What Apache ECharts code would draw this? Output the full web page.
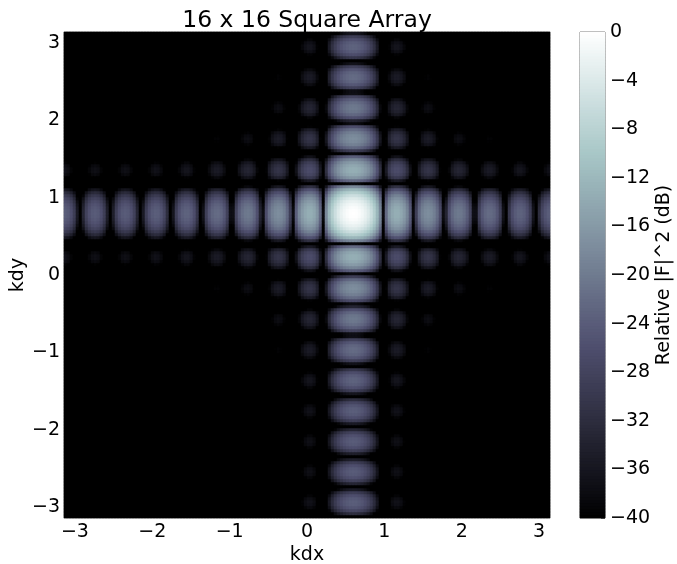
<!DOCTYPE html>
<html><head><meta charset="utf-8">
<style>html,body{margin:0;padding:0;background:#fff}#c{width:677px;height:564px}</style>
<script src="https://cdn.jsdelivr.net/npm/echarts@6/dist/echarts.min.js"></script>
</head><body><div id="c"></div>
<script>
// Cut through the peak along kdx, in dB, left to right (162 samples, -pi..pi)
const kdxProfileDb = [
-23.7,-24.4,-26.0,-29.0,-35.3,-52,-33.3,-28.2,-25.7,-24.4,-24.0,-24.5,-26.0,-28.8,-34.4,-60,
-34.4,-28.8,-26.0,-24.5,-24.0,-24.4,-25.7,-28.2,-33.3,-52,
-35.3,-29.0,-26.0,-24.4,-23.7,-23.9,-25.1,-27.4,-31.9,-45.6,
-36.1,-29.0,-25.7,-23.9,-23.1,-23.1,-24.1,-26.2,-30.3,-41.2,
-36.7,-28.6,-24.9,-22.9,-22.0,-21.9,-22.7,-24.6,-28.3,-37.4,
-37.2,-27.8,-23.7,-21.5,-20.4,-20.1,-20.7,-22.4,-25.7,-33.4,
-37.6,-26.3,-21.8,-19.3,-18.0,-17.5,-17.9,-19.2,-22.2,-28.8,
-37.9,-23.7,-18.6,-15.7,-14.1,-13.3,-13.3,-14.2,-16.5,-22.0,
-38.0,-18.2,-12.1,-8.4,-5.8,-3.8,-2.4,-1.3,-0.6,-0.1,
0,
-0.1,-0.6,-1.3,-2.4,-3.8,-5.8,-8.4,-12.1,-18.2,-38.0,
-22.0,-16.5,-14.2,-13.3,-13.3,-14.1,-15.7,-18.6,-23.7,-37.9,
-28.8,-22.2,-19.2,-17.9,-17.5,-18.0,-19.3,-21.8,-26.3,-37.6,
-33.4,-25.7,-22.4,-20.7,-20.1,-20.4,-21.5,-23.7,-27.8,-37.2,
-37.4,-28.3,-24.6,-22.7,-21.9,-22.0,-22.9,-24.9,-28.6,-36.7,
-41.2,-30.3,-26.2,-24.1,-23.1,-23.1,-23.9,-25.7,-29.0,-36.1,
-45.6,-31.9,-27.4,-25.1,-23.9
];
// Cut through the peak along kdy, in dB, bottom to top (162 samples, -pi..pi)
const kdyProfileDb = [
-45.6,-31.9,-27.4,-25.1,-23.9,-23.7,-24.4,-26.0,-29.0,-35.3,
-52,-33.3,-28.2,-25.7,-24.4,-24.0,-24.5,-26.0,-28.8,-34.4,-60,
-34.4,-28.8,-26.0,-24.5,-24.0,-24.4,-25.7,-28.2,-33.3,-52,
-35.3,-29.0,-26.0,-24.4,-23.7,-23.9,-25.1,-27.4,-31.9,-45.6,
-36.1,-29.0,-25.7,-23.9,-23.1,-23.1,-24.1,-26.2,-30.3,-41.2,
-36.7,-28.6,-24.9,-22.9,-22.0,-21.9,-22.7,-24.6,-28.3,-37.4,
-37.2,-27.8,-23.7,-21.5,-20.4,-20.1,-20.7,-22.4,-25.7,-33.4,
-37.6,-26.3,-21.8,-19.3,-18.0,-17.5,-17.9,-19.2,-22.2,-28.8,
-37.9,-23.7,-18.6,-15.7,-14.1,-13.3,-13.3,-14.2,-16.5,-22.0,
-38.0,-18.2,-12.1,-8.4,-5.8,-3.8,-2.4,-1.3,-0.6,-0.1,
0,
-0.1,-0.6,-1.3,-2.4,-3.8,-5.8,-8.4,-12.1,-18.2,-38.0,
-22.0,-16.5,-14.2,-13.3,-13.3,-14.1,-15.7,-18.6,-23.7,-37.9,
-28.8,-22.2,-19.2,-17.9,-17.5,-18.0,-19.3,-21.8,-26.3,-37.6,
-33.4,-25.7,-22.4,-20.7,-20.1,-20.4,-21.5,-23.7,-27.8,-37.2,
-37.4,-28.3,-24.6,-22.7,-21.9,-22.0,-22.9,-24.9,-28.6,-36.7,
-41.2,-30.3,-26.2,-24.1,-23.1,-23.1,-23.9,-25.7,-29.0,-36.1
];
const axisTicks = [-3,-2,-1,0,1,2,3];
const boneColors = ['rgb(0,0,0)','rgb(11,11,16)','rgb(22,22,31)','rgb(33,33,46)','rgb(45,45,62)','rgb(56,56,78)','rgb(67,67,93)','rgb(78,78,109)','rgb(89,92,121)','rgb(100,107,132)','rgb(111,123,143)','rgb(123,138,155)','rgb(134,153,166)','rgb(145,169,177)','rgb(156,184,188)','rgb(168,199,199)','rgb(185,210,210)','rgb(202,221,222)','rgb(220,233,233)','rgb(237,244,244)','rgb(255,255,255)'];

const FONT = '"DejaVu Sans"';
const minus = v => String(v).replace('-', '\u2212');
const cells = [];
kdxProfileDb.forEach((a, i) => kdyProfileDb.forEach((b, j) => cells.push([i, j, Math.max(-40, a + b)])));
const barLevels = kdxProfileDb.map((_, k) => -40 + 40 * (k + 0.5) / kdxProfileDb.length);
const barCells = barLevels.map((v, k) => [0, k, v]);
const idx = kdxProfileDb.map((_, i) => i);
const hidden = {show:false};
const tickLabel = {fontFamily:FONT,fontSize:19,color:'#000',formatter:minus};

const option = {
  animation:false,
  backgroundColor:'#fff',
  title:{text:'16 x 16 Square Array',left:302,top:4,textAlign:'center',textStyle:{fontFamily:FONT,fontSize:23.5,fontWeight:'normal',color:'#000'}},
  grid:[
    {left:64,top:32,width:486,height:486,outerBoundsMode:'none',containLabel:false,show:true,backgroundColor:'#000',borderColor:'#999',borderWidth:1},
    {left:580,top:32,width:25,height:486,outerBoundsMode:'none',containLabel:false,show:true,borderColor:'#555',borderWidth:1}
  ],
  xAxis:[
    {type:'category',gridIndex:0,data:idx,...hidden},
    {type:'value',gridIndex:0,min:-Math.PI,max:Math.PI,position:'bottom',splitLine:{show:false},
      axisLine:{show:false},axisTick:{show:false,customValues:axisTicks},
      axisLabel:{...tickLabel,margin:5,customValues:axisTicks},
      name:'kdx',nameLocation:'middle',nameMoveOverlap:false,nameGap:28,nameTextStyle:{fontFamily:FONT,fontSize:19,color:'#000'}},
    {type:'category',gridIndex:1,data:[0],...hidden}
  ],
  yAxis:[
    {type:'category',gridIndex:0,data:idx,...hidden},
    {type:'value',gridIndex:0,min:-Math.PI,max:Math.PI,position:'left',splitLine:{show:false},
      axisLine:{show:false},axisTick:{show:false,customValues:axisTicks},
      axisLabel:{...tickLabel,margin:4,customValues:axisTicks},
      name:'kdy',nameLocation:'middle',nameMoveOverlap:false,nameGap:36,nameTextStyle:{fontFamily:FONT,fontSize:19,color:'#000'}},
    {type:'category',gridIndex:1,data:idx,...hidden},
    {type:'value',gridIndex:1,min:-40,max:0,interval:4,position:'right',splitLine:{show:false},
      axisLine:{show:false},axisTick:{show:true,inside:true,length:4,lineStyle:{color:'#555',width:1}},
      axisLabel:{...tickLabel,margin:5},
      name:'Relative |F|^2 (dB)',nameLocation:'middle',nameMoveOverlap:false,nameGap:50,nameRotate:90,nameTextStyle:{fontFamily:FONT,fontSize:19,color:'#000'}}
  ],
  visualMap:{show:false,type:'continuous',min:-40,max:0,dimension:2,seriesIndex:[0,1],inRange:{color:boneColors}},
  series:[
    {type:'heatmap',xAxisIndex:0,yAxisIndex:0,data:cells,progressive:0,silent:true,emphasis:{disabled:true}},
    {type:'heatmap',xAxisIndex:2,yAxisIndex:2,data:barCells,progressive:0,silent:true,emphasis:{disabled:true}}
  ]
};
echarts.init(document.getElementById('c'),null,{renderer:'canvas'}).setOption(option);
</script></body></html>
